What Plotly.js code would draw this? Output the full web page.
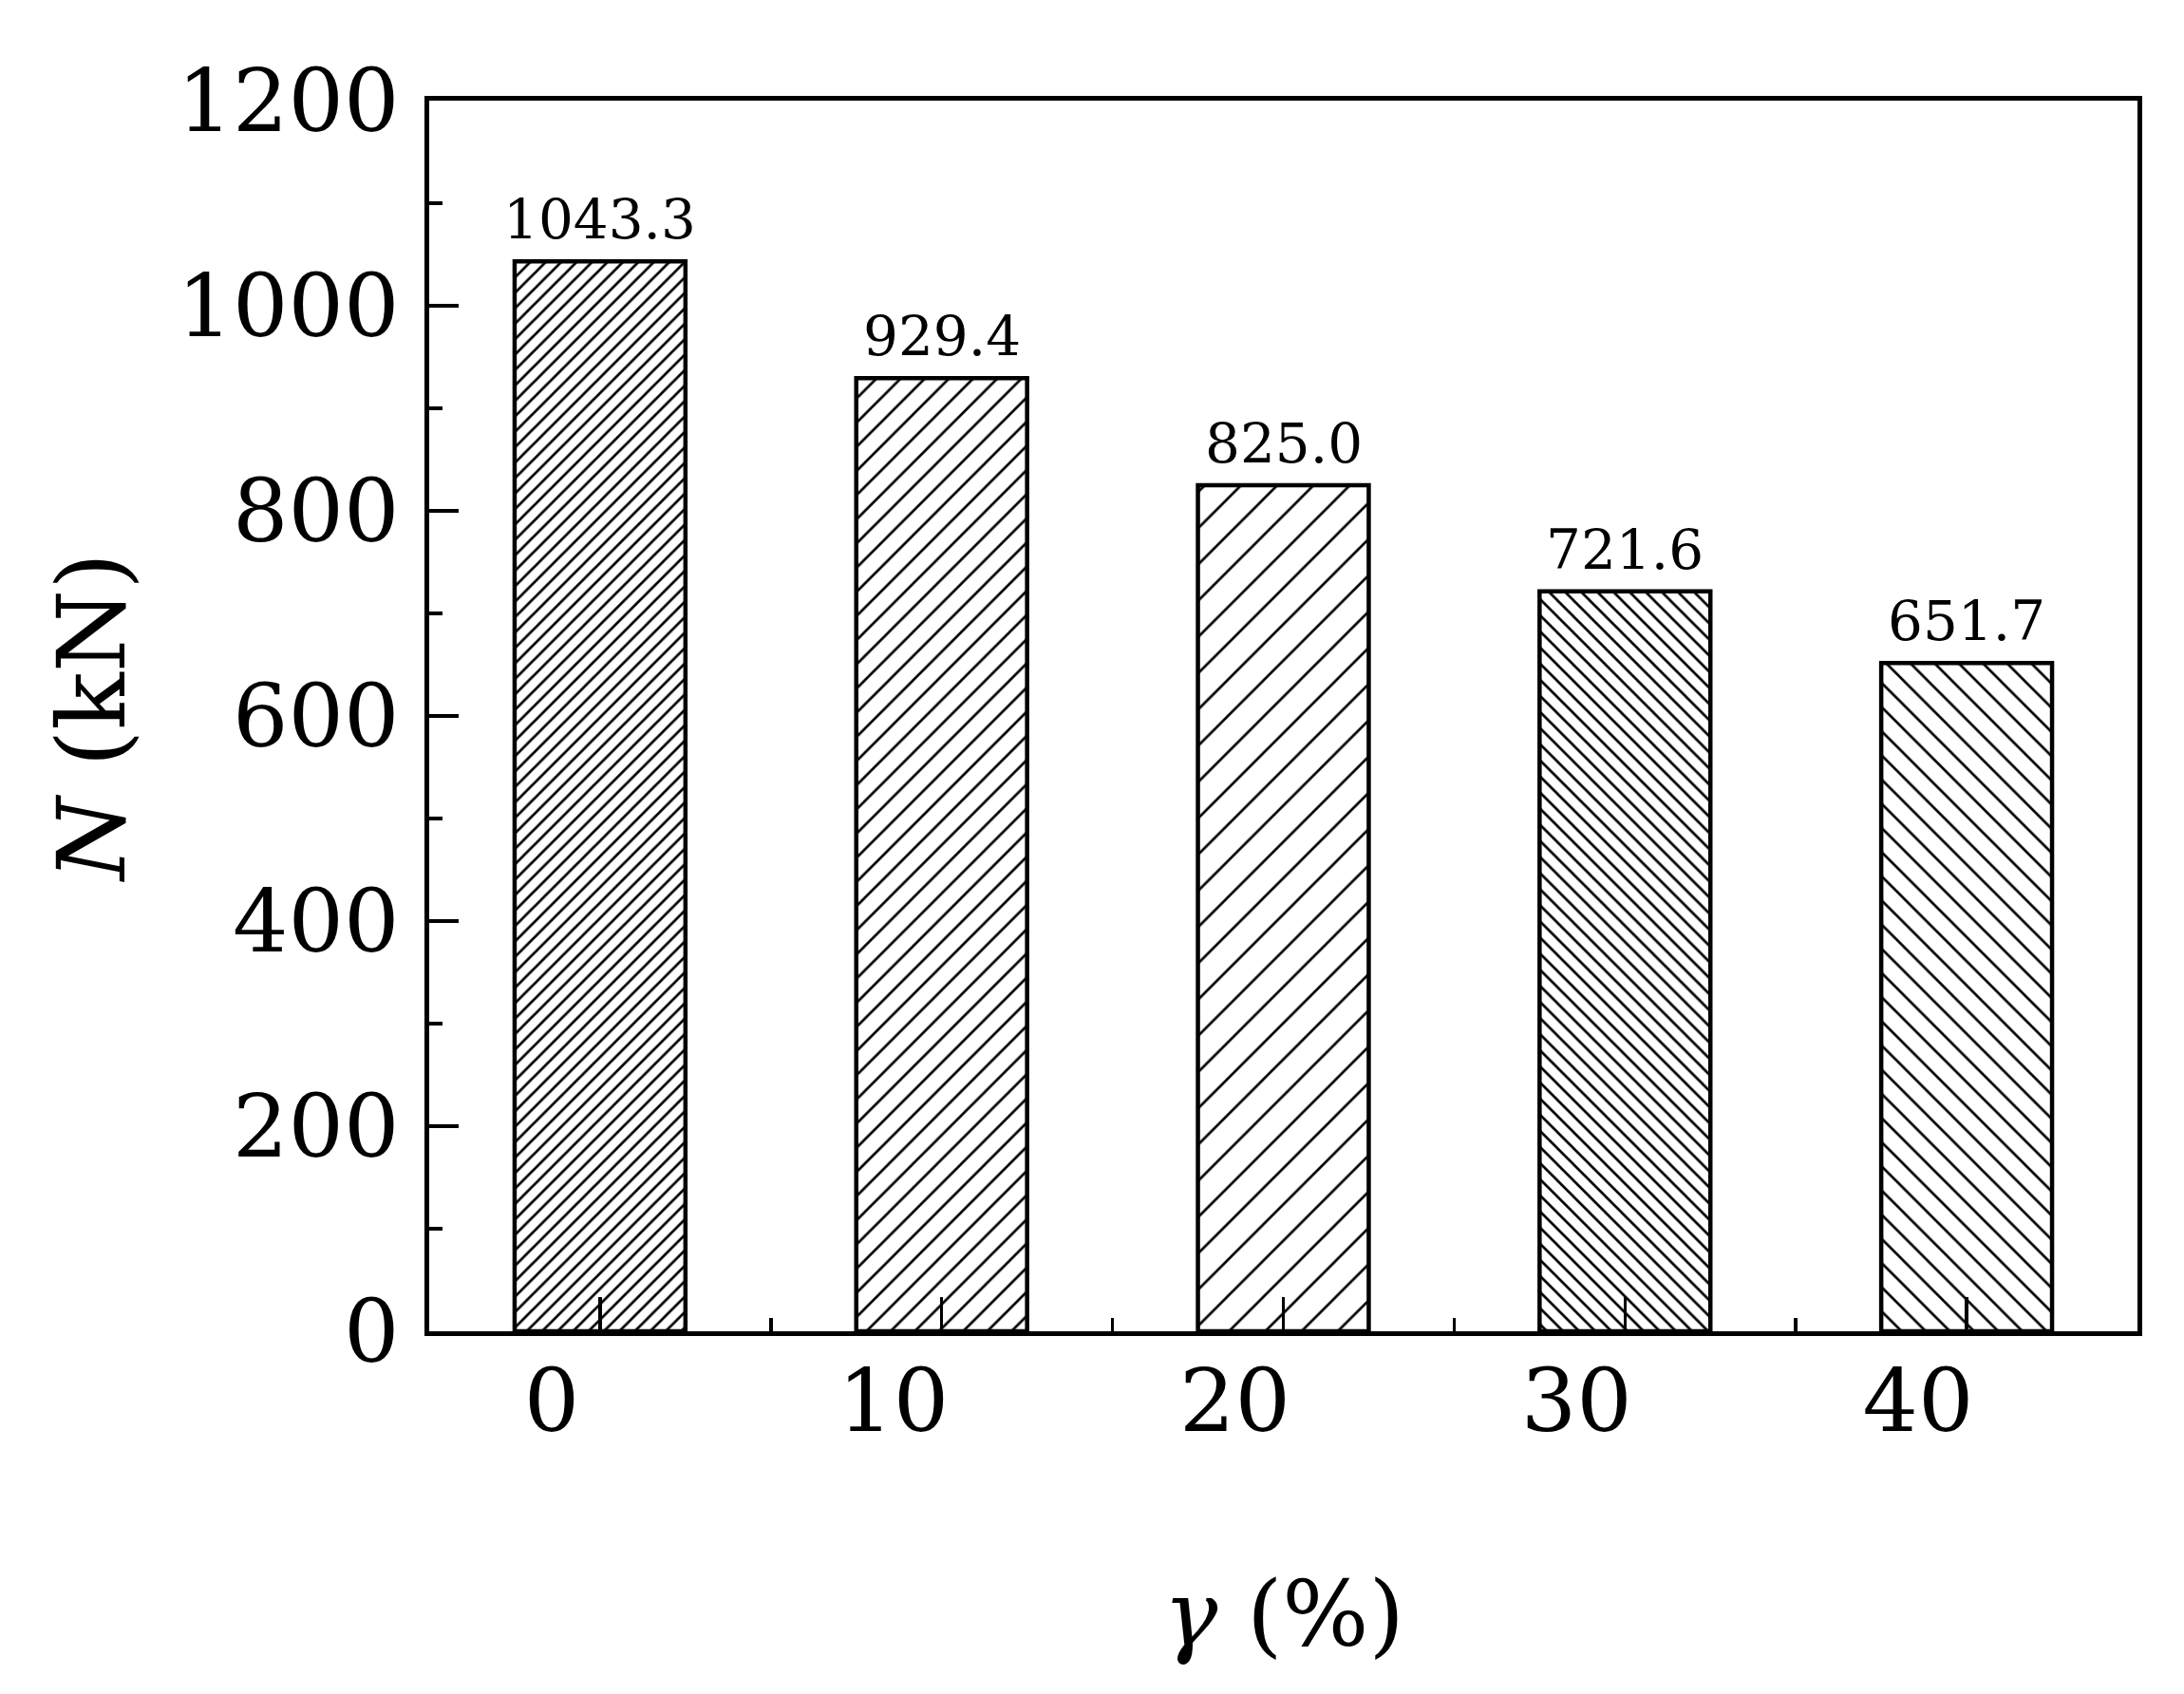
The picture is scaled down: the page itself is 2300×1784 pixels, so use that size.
<!DOCTYPE html>
<html>
<head>
<meta charset="utf-8">
<script src="https://cdn.plot.ly/plotly-3.0.1.min.js"></script>
<style>html,body{margin:0;padding:0;background:#fff;}#chart{width:2300px;height:1784px;}</style>
</head>
<body>
<div id="chart"></div>
<script>
// Data
var gammaPercent = [0, 10, 20, 30, 40];
var loadKN = [1043.3, 929.4, 825.0, 721.6, 651.7];
var xTickLabels = ['0', '10', '20', '30', '40'];
var yTickValues = [0, 200, 400, 600, 800, 1000, 1200];

// Styles (not data)
var patShapes = ['/', '/', '/', '\\', '\\'];
var patSizes = [11.5, 18, 27, 12, 18];
var hatchWidth = 2.7;
var patSolid = patSizes.map(function (s) { return hatchWidth / s; });

var serif = 'DejaVu Serif, Liberation Serif, serif';

var trace = {
  type: 'bar',
  x: gammaPercent,
  y: loadKN,
  width: 5,
  marker: {
    color: '#ffffff',
    line: {color: '#000000', width: 4.5},
    pattern: {
      shape: patShapes,
      size: patSizes,
      solidity: patSolid,
      fgcolor: '#000000',
      bgcolor: '#ffffff',
      fgopacity: 1,
      fillmode: 'replace'
    }
  },
  hoverinfo: 'none',
  cliponaxis: false
};

var annotations = gammaPercent.map(function (g, i) {
  return {
    x: g, y: loadKN[i], xref: 'x', yref: 'y',
    text: loadKN[i].toFixed(1),
    showarrow: false, xanchor: 'center', yanchor: 'bottom', yshift: 8,
    font: {family: serif, size: 58, color: '#000'}
  };
});
annotations.push({
  xref: 'paper', yref: 'paper', x: -0.198, y: 0.499,
  text: '<i>N</i> (kN)', textangle: -90, showarrow: false,
  xanchor: 'center', yanchor: 'middle',
  font: {family: serif, size: 100, color: '#000'}
});
annotations.push({
  xref: 'paper', yref: 'paper', x: 0.5, y: -0.230,
  text: '<i>γ</i> (%)', showarrow: false,
  xanchor: 'center', yanchor: 'middle',
  font: {family: serif, size: 96, color: '#000'}
});

var layout = {
  width: 2300, height: 1784,
  margin: {l: 452, r: 49, t: 106, b: 382, autoexpand: false},
  paper_bgcolor: '#fff', plot_bgcolor: '#fff',
  showlegend: false,
  xaxis: {
    range: [-5, 45],
    tickmode: 'array', tickvals: gammaPercent, ticktext: xTickLabels,
    ticks: 'inside', ticklen: 36, tickwidth: 3.5, tickcolor: '#000',
    minor: {dtick: 5, tick0: 5, ticks: 'inside', ticklen: 14, tickwidth: 3.5, tickcolor: '#000'},
    showline: true, linewidth: 5, linecolor: '#000', mirror: true,
    showgrid: false, zeroline: false,
    ticklabelstandoff: -10,
    ticklabelshift: -51,
    tickfont: {family: serif, size: 92, color: '#000'},
    fixedrange: true
  },
  yaxis: {
    range: [0, 1200],
    tickmode: 'array', tickvals: yTickValues,
    ticks: 'inside', ticklen: 31, tickwidth: 3.5, tickcolor: '#000',
    minor: {dtick: 100, tick0: 0, ticks: 'inside', ticklen: 14, tickwidth: 3.5, tickcolor: '#000'},
    showline: true, linewidth: 5, linecolor: '#000', mirror: true,
    showgrid: false, zeroline: false,
    ticklabelstandoff: 8,
    tickfont: {family: serif, size: 92, color: '#000'},
    fixedrange: true
  },
  annotations: annotations
};

Plotly.newPlot('chart', [trace], layout, {displayModeBar: false, staticPlot: true});
</script>
</body>
</html>
